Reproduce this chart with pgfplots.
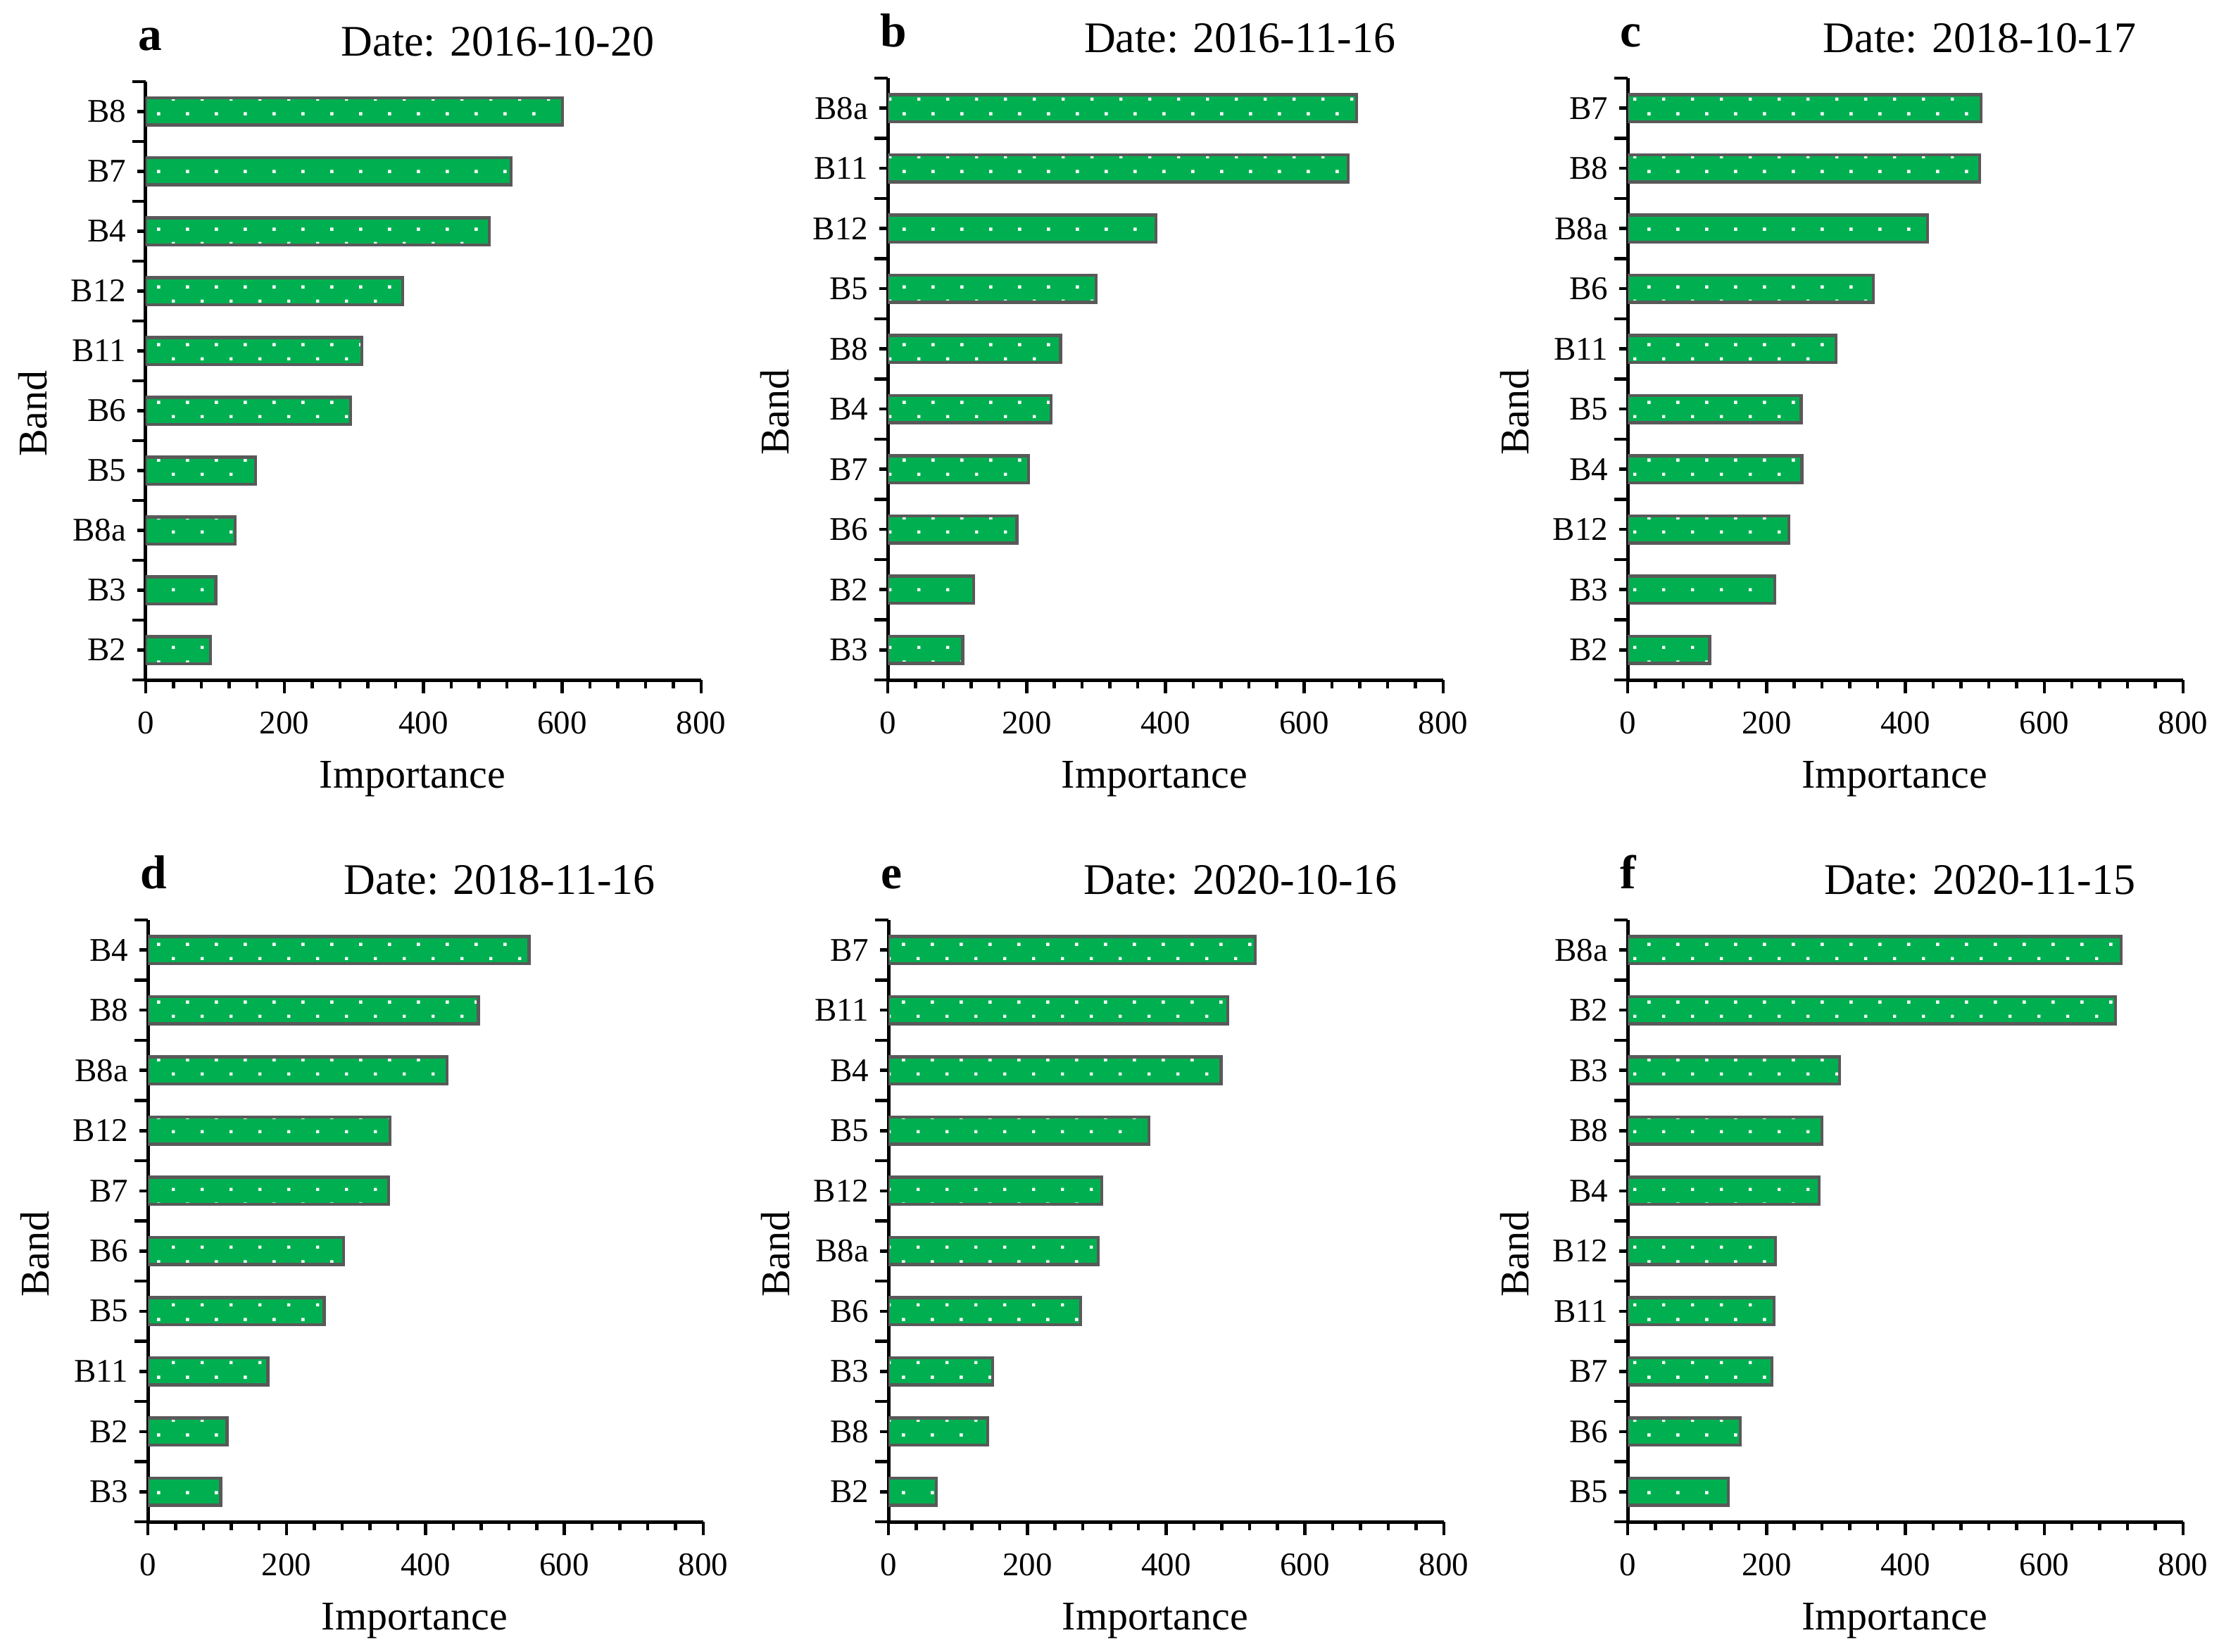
\documentclass[border=0pt]{standalone}
\usepackage{pgfplots}
\pgfplotsset{compat=1.18}
\usepackage{fontspec}
\setmainfont{Liberation Serif}
\usetikzlibrary{patterns}
\definecolor{barg}{HTML}{00B050}
\definecolor{bord}{HTML}{595959}
\pgfdeclarepatternformonly{sparsedots}{\pgfpointorigin}{\pgfqpoint{8.14pt}{8.14pt}}{\pgfqpoint{8.14pt}{8.14pt}}{%
  \pgfpathrectangle{\pgfqpoint{0pt}{0pt}}{\pgfqpoint{0.9pt}{0.9pt}}%
  \pgfpathrectangle{\pgfqpoint{4.07pt}{4.07pt}}{\pgfqpoint{0.9pt}{0.9pt}}%
  \pgfusepath{fill}}
\tikzset{
  letter/.style={anchor=base west, inner sep=0pt, yshift=8.9pt, font=\fontsize{13.5}{14}\selectfont\bfseries},
  barstyle/.style={draw=bord, line width=0.85pt, preaction={fill=barg}, preaction={pattern=sparsedots, pattern color=white}},
}
\pgfplotsset{
  panel/.style={
    width=157.8pt, height=171pt, scale only axis, anchor=south west,
    xbar, bar width=0.45,
    xmin=0, xmax=800, ymin=-0.5, ymax=9.5,
    axis x line*=bottom, axis y line*=left,
    axis line style={line width=1pt, black},
    xtick={0,200,400,600,800}, minor x tick num=4,
    ytick={-0.5,0.5,...,9.5}, yticklabels={},
    extra y ticks={0,1,2,3,4,5,6,7,8,9},
    extra y tick style={major tick length=2.4pt},
    tick align=outside,
    major tick length=3.8pt, minor tick length=2.4pt,
    every tick/.style={black, line width=0.9pt},
    /pgf/number format/assume math mode=true,
    tick label style={font=\fontsize{9.4}{10}\selectfont},
    xticklabel style={anchor=base, yshift=-11.4pt},
    yticklabel style={anchor=east, inner sep=0pt, xshift=-3.0pt},
    every axis title shift=0pt,
    title style={at={(0.6337,1)}, anchor=base, yshift=7.3pt, inner sep=0pt, font=\fontsize{12.4}{13}\selectfont},
    xlabel={Importance}, ylabel={Band},
    xlabel style={at={(axis description cs:0.4804,0)}, anchor=base, yshift=-30.6pt, inner sep=0pt, font=\fontsize{11.6}{12}\selectfont},
    ylabel style={at={(axis description cs:-0.2028,0.445)}, anchor=center, inner sep=0pt, font=\fontsize{11.6}{12}\selectfont},
  },
}
\begin{document}
\begin{tikzpicture}
\path[use as bounding box] (0,0) rectangle (630.4pt,469.2pt);
% a
\begin{axis}[panel, at={(41.4pt,276pt)}, height=170pt,
  title={Date: 2016-10-20},
  extra y tick labels={B2,B3,B8a,B5,B6,B11,B12,B4,B7,B8},
  extra description/.code={\node[letter] at (-0.0152,1) {a};}]
\addplot[barstyle] coordinates {(93,0) (101,1) (129,2) (158,3) (295,4) (311,5) (370,6) (495,7) (526,8) (600,9)};
\end{axis}
% b
\begin{axis}[panel, at={(252.2pt,276pt)},
  title={Date: 2016-11-16},
  extra y tick labels={B3,B2,B6,B7,B4,B8,B5,B12,B11,B8a},
  extra description/.code={\node[letter] at (-0.0152,1) {b};}]
\addplot[barstyle] coordinates {(108,0) (124,1) (186,2) (203,3) (235,4) (249,5) (300,6) (386,7) (663,8) (675,9)};
\end{axis}
% c
\begin{axis}[panel, at={(462.4pt,276pt)},
  title={Date: 2018-10-17},
  extra y tick labels={B2,B3,B12,B4,B5,B11,B6,B8a,B8,B7},
  extra description/.code={\node[letter] at (-0.0152,1) {c};}]
\addplot[barstyle] coordinates {(118,0) (212,1) (232,2) (251,3) (250,4) (300,5) (354,6) (432,7) (507,8) (509,9)};
\end{axis}
% d
\begin{axis}[panel, at={(42pt,36.8pt)},
  title={Date: 2018-11-16},
  extra y tick labels={B3,B2,B11,B5,B6,B7,B12,B8a,B8,B4},
  extra description/.code={\node[letter] at (-0.0152,1) {d};}]
\addplot[barstyle] coordinates {(105,0) (114,1) (173,2) (254,3) (282,4) (347,5) (349,6) (431,7) (476,8) (549,9)};
\end{axis}
% e
\begin{axis}[panel, at={(252.4pt,36.8pt)},
  title={Date: 2020-10-16},
  extra y tick labels={B2,B8,B3,B6,B8a,B12,B5,B4,B11,B7},
  extra description/.code={\node[letter] at (-0.0152,1) {e};}]
\addplot[barstyle] coordinates {(69,0) (143,1) (150,2) (277,3) (302,4) (307,5) (375,6) (479,7) (489,8) (528,9)};
\end{axis}
% f
\begin{axis}[panel, at={(462.4pt,36.8pt)},
  title={Date: 2020-11-15},
  extra y tick labels={B5,B6,B7,B11,B12,B4,B8,B3,B2,B8a},
  extra description/.code={\node[letter] at (-0.0152,1) {f};}]
\addplot[barstyle] coordinates {(145,0) (162,1) (208,2) (211,3) (213,4) (276,5) (280,6) (305,7) (703,8) (711,9)};
\end{axis}
\end{tikzpicture}
\end{document}
